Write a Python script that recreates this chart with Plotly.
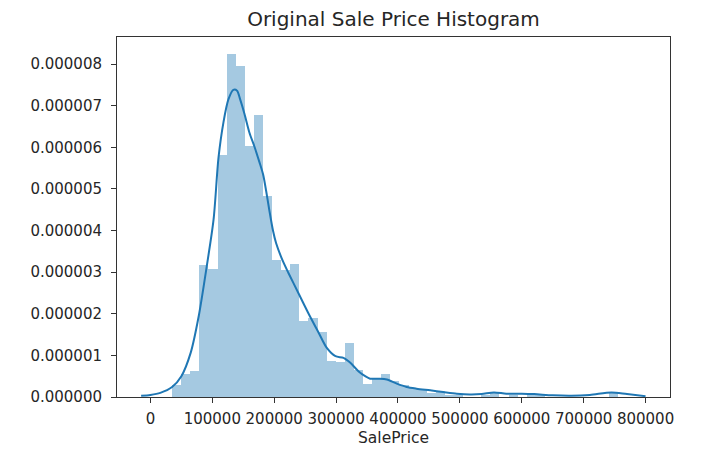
import plotly.graph_objects as go

# ---- data ----
# histogram: 49 bins of width 14696 starting at 34900 (SalePrice), density values in units of 1e-6
bin_left = [34900, 49596, 64292, 78988, 93684, 108380, 123076, 137772, 152468, 167164,
            181860, 196556, 211252, 225948, 240644, 255340, 270036, 284732, 299428, 314124,
            328820, 343516, 358212, 372908, 387604, 402300, 416996, 431692, 446388, 461084,
            475780, 490476, 505172, 519868, 534564, 549260, 563956, 578652, 593348, 608044,
            622740, 637436, 652132, 666828, 681524, 696220, 710916, 725612, 740308]
bin_width = 14696
hist_density = [0.30, 0.56, 0.62, 3.16, 3.08, 5.82, 8.24, 7.95, 6.02, 6.77,
                4.82, 3.30, 3.06, 3.20, 1.82, 1.90, 1.57, 0.876, 0.835, 1.30,
                0.66, 0.32, 0.46, 0.56, 0.38, 0.28, 0.22, 0.17, 0.09, 0.15,
                0.05, 0.05, 0.0, 0.0, 0.05, 0.09, 0.0, 0.05, 0.0, 0.05,
                0.05, 0.0, 0.0, 0.0, 0.0, 0.0, 0.0, 0.0, 0.09]

# KDE curve (x in thousands, density in 1e-6)
kde_x = [-15, 0, 16, 35, 50, 65, 78, 91, 102, 110, 118, 126, 134, 140, 145, 152, 160, 168,
         176, 182, 187, 192, 198, 203, 213, 223, 239, 255, 272, 285, 299, 312, 323, 336,
         347, 355, 371, 382, 398, 414, 430, 452, 473, 495, 516, 535, 555, 575, 600, 620,
         650, 680, 710, 745, 770, 800]
kde_y = [0.03, 0.05, 0.10, 0.24, 0.50, 1.06, 1.94, 3.14, 4.26, 5.75, 6.60, 7.15, 7.38, 7.36,
         7.15, 6.80, 6.35, 6.02, 5.65, 5.35, 4.95, 4.50, 4.00, 3.70, 3.30, 2.98, 2.50, 2.02,
         1.54, 1.18, 0.98, 0.94, 0.82, 0.62, 0.50, 0.44, 0.44, 0.42, 0.32, 0.24, 0.20, 0.16,
         0.12, 0.08, 0.06, 0.07, 0.11, 0.08, 0.08, 0.07, 0.04, 0.03, 0.05, 0.11, 0.07, 0.02]

x_ticks = [0, 100000, 200000, 300000, 400000, 500000, 600000, 700000, 800000]
y_ticks = [0, 1e-6, 2e-6, 3e-6, 4e-6, 5e-6, 6e-6, 7e-6, 8e-6]

title = "Original Sale Price Histogram"
x_label = "SalePrice"

# ---- figure ----
bar_x = [b + bin_width / 2 for b in bin_left]
bar_y = [d * 1e-6 for d in hist_density]

fig = go.Figure()
fig.add_trace(go.Bar(
    x=bar_x, y=bar_y, width=[bin_width] * len(bar_x),
    marker=dict(color="rgba(31,119,180,0.4)", line=dict(width=0)),
    hoverinfo="skip", showlegend=False,
))
fig.add_trace(go.Scatter(
    x=[v * 1000 for v in kde_x], y=[v * 1e-6 for v in kde_y],
    mode="lines", line=dict(color="#1f77b4", width=2, shape="spline", smoothing=0.8),
    showlegend=False,
))

font = "DejaVu Sans"
axis_common = dict(
    showline=True, linecolor="#333333", linewidth=1, mirror=True,
    ticks="outside", ticklen=5, tickwidth=1, tickcolor="#333333",
    showgrid=False, zeroline=False, automargin=False,
    tickfont=dict(family=font, size=15, color="#262626"),
)

fig.update_layout(
    width=703, height=460,
    margin=dict(l=117, r=33, t=37, b=63),
    paper_bgcolor="white", plot_bgcolor="white",
    bargap=0,
    title=dict(text=title, x=0.5, xref="paper", y=1 - 19 / 460, yref="container",
               xanchor="center", yanchor="middle",
               font=dict(family=font, size=20, color="#262626")),
    xaxis=dict(range=[-54000, 839500], tickvals=x_ticks, tickformat="d",
               ticklabelstandoff=3,
               title=dict(text=x_label, standoff=5,
                          font=dict(family=font, size=15.5, color="#262626")),
               **axis_common),
    yaxis=dict(range=[0, 8.65e-6], tickvals=y_ticks, tickformat=".6f",
               ticklabelstandoff=6, **axis_common),
)

fig.write_html("out.html", config={"displayModeBar": False},
               post_script="document.body.style.margin='0';")
